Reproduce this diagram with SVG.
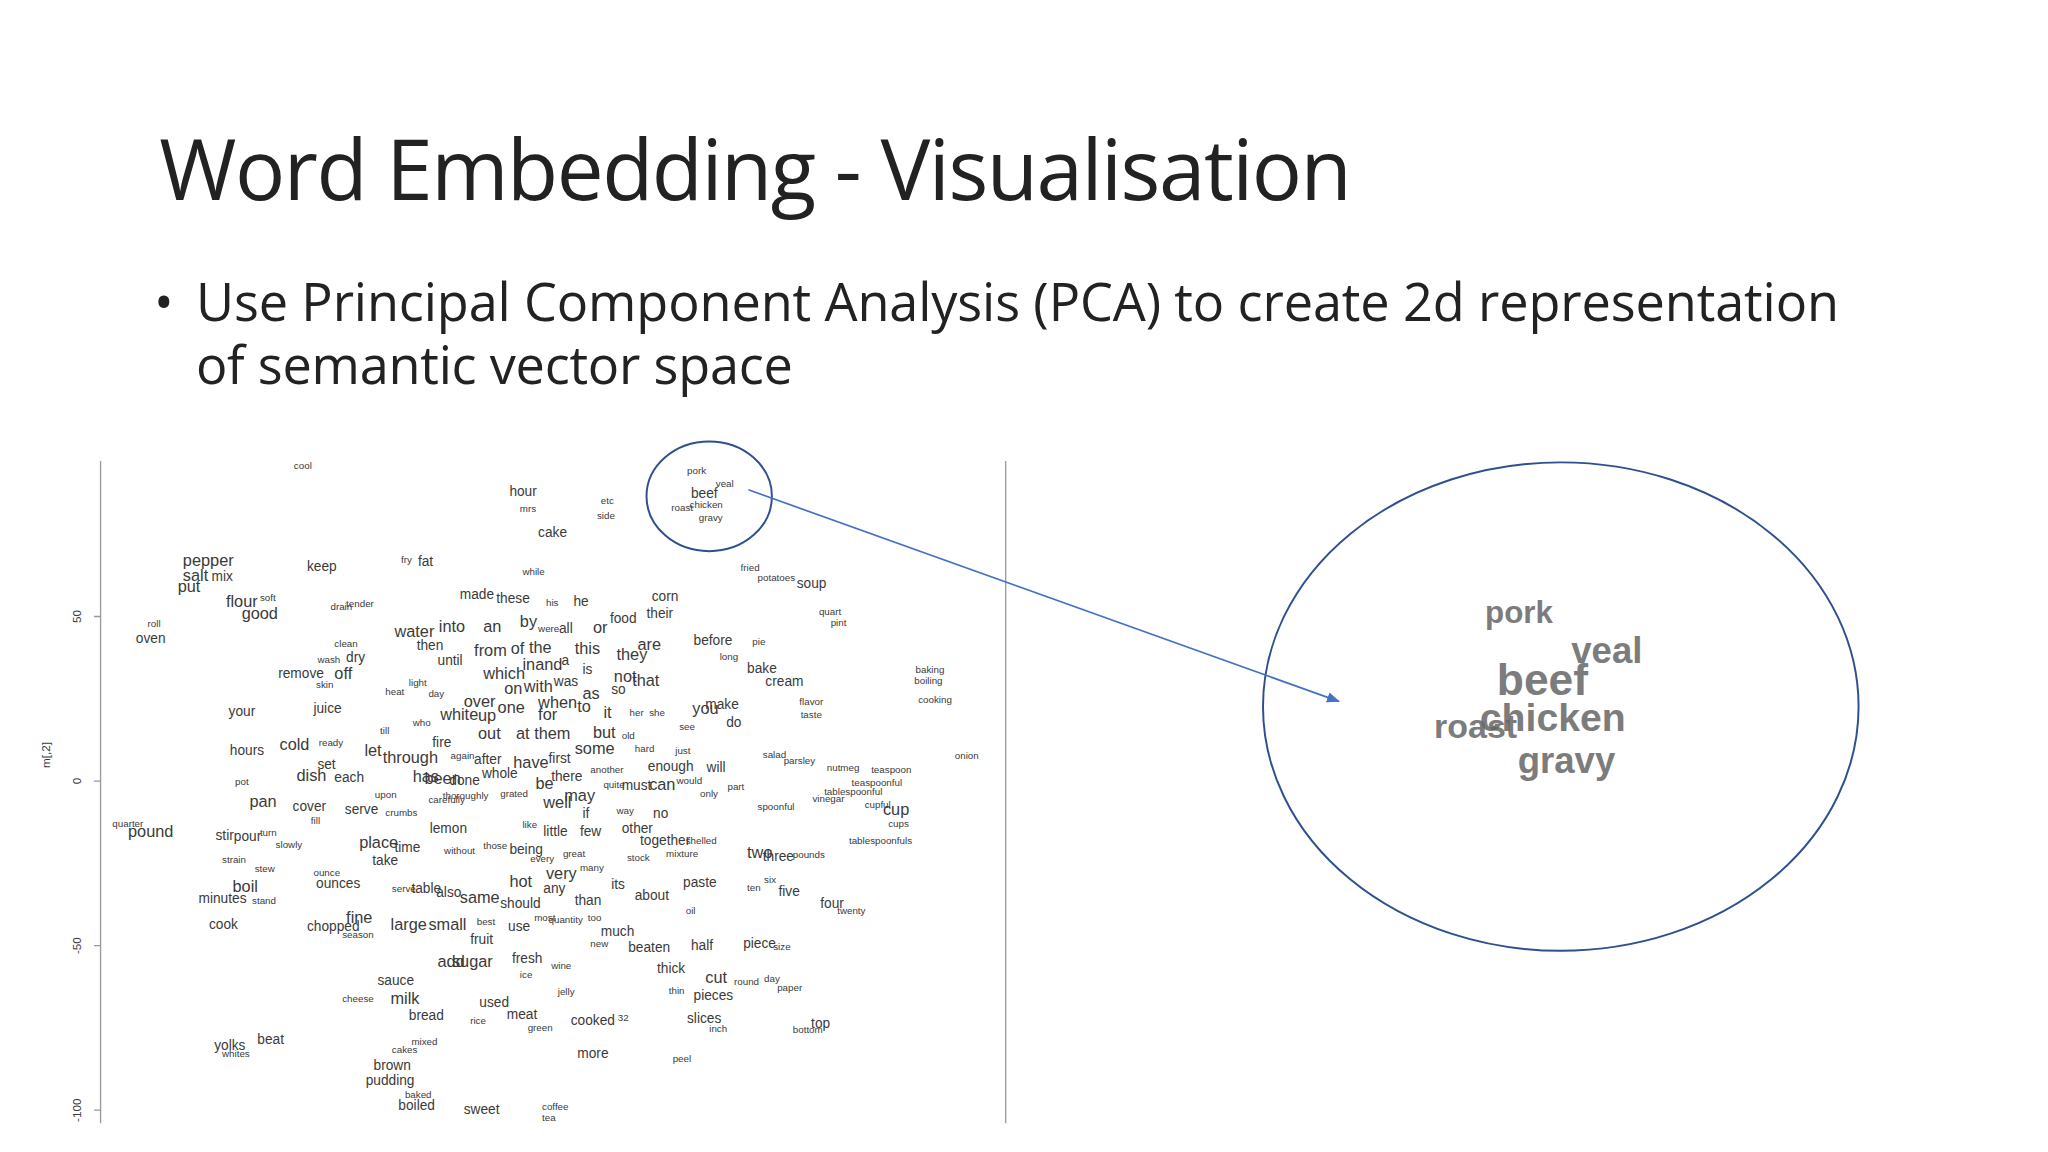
<svg xmlns="http://www.w3.org/2000/svg" width="2048" height="1152" viewBox="0 0 2048 1152">
<style>
.t{font-family:"Open Sans","Liberation Sans",sans-serif;fill:#222}
.w{font-family:"Liberation Sans Narrow","Liberation Sans",Arial,sans-serif;fill:#3a3a3a}
.L{font-size:12.5px}.M{font-size:10.5px}.S{font-size:7.5px}
.ax{stroke:#999;stroke-width:1;fill:none}
.z{font-family:"Liberation Sans",Arial,sans-serif;fill:#666;font-weight:bold;opacity:.85}
</style>
<defs><marker id="ah" markerWidth="10" markerHeight="8" refX="9" refY="4" orient="auto" markerUnits="userSpaceOnUse"><path d="M0,0L10,4L0,8z" fill="#4472c4"/></marker></defs>
<rect width="2048" height="1152" fill="#fff"/>
<g transform="scale(1.3061)">
<g id="title"><text class="t" x="122" y="153" font-size="64" textLength="913">Word Embedding - Visualisation</text></g>
<g id="bullet"><text class="t" x="118" y="246" font-size="40">•</text>
<text class="t" x="150" y="246" font-size="40" textLength="1258">Use Principal Component Analysis (PCA) to create 2d representation</text>
<text class="t" x="150" y="294" font-size="40" textLength="457">of semantic vector space</text></g>
<g id="plot">
<path class="ax" d="M77,353V860M770,353V860M72,472H77M72,598H77M72,724H77M72,850H77"/>
<g class="w" font-size="9" fill="#555" text-anchor="middle">
<text transform="translate(62,472) rotate(-90)">50</text>
<text transform="translate(62,598) rotate(-90)">0</text>
<text transform="translate(62,724) rotate(-90)">-50</text>
<text transform="translate(62,850) rotate(-90)">-100</text>
<text transform="translate(38,578) rotate(-90)">m[,2]</text></g>
<g id="words">
<text class="w S" x="225" y="359">cool</text><text class="w M" x="390" y="380">hour</text><text class="w S" x="398" y="392">mrs</text><text class="w S" x="460" y="386">etc</text><text class="w S" x="457" y="397">side</text><text class="w M" x="412" y="411">cake</text>
<text class="w S" x="526" y="363">pork</text><text class="w S" x="548" y="373">veal</text><text class="w M" x="529" y="381">beef</text><text class="w S" x="514" y="391">roast</text><text class="w S" x="528" y="389">chicken</text><text class="w S" x="535" y="399">gravy</text>
<text class="w L" x="140" y="433">pepper</text><text class="w L" x="140" y="445">salt</text><text class="w M" x="162" y="445">mix</text><text class="w L" x="136" y="453">put</text><text class="w M" x="235" y="437">keep</text><text class="w S" x="307" y="431">fry</text><text class="w M" x="320" y="433">fat</text><text class="w S" x="400" y="440">while</text><text class="w S" x="567" y="437">fried</text><text class="w S" x="580" y="445">potatoes</text><text class="w M" x="610" y="450">soup</text>
<text class="w L" x="173" y="465">flour</text><text class="w S" x="199" y="460">soft</text><text class="w L" x="185" y="474">good</text><text class="w S" x="253" y="467">drain</text><text class="w S" x="265" y="465">tender</text><text class="w M" x="352" y="459">made</text><text class="w M" x="380" y="462">these</text><text class="w S" x="418" y="464">his</text><text class="w M" x="439" y="464">he</text><text class="w M" x="499" y="460">corn</text><text class="w M" x="495" y="473">their</text><text class="w S" x="627" y="471">quart</text><text class="w S" x="636" y="479">pint</text>
<text class="w S" x="113" y="480">roll</text><text class="w M" x="104" y="492">oven</text><text class="w L" x="302" y="488">water</text><text class="w L" x="336" y="484">into</text><text class="w L" x="370" y="484">an</text><text class="w L" x="398" y="480">by</text><text class="w S" x="412" y="484">were</text><text class="w M" x="428" y="485">all</text><text class="w L" x="454" y="485">or</text><text class="w M" x="467" y="477">food</text><text class="w M" x="531" y="494">before</text><text class="w S" x="576" y="494">pie</text>
<text class="w S" x="256" y="495">clean</text><text class="w M" x="319" y="498">then</text><text class="w L" x="363" y="502">from</text><text class="w L" x="391" y="501">of</text><text class="w L" x="405" y="500">the</text><text class="w L" x="440" y="501">this</text><text class="w L" x="472" y="505">they</text><text class="w L" x="488" y="498">are</text>
<text class="w S" x="243" y="508">wash</text><text class="w M" x="265" y="507">dry</text><text class="w M" x="335" y="509">until</text><text class="w L" x="400" y="513">inand</text><text class="w M" x="430" y="509">a</text><text class="w S" x="551" y="505">long</text><text class="w M" x="572" y="515">bake</text><text class="w S" x="701" y="515">baking</text><text class="w S" x="700" y="524">boiling</text>
<text class="w M" x="213" y="519">remove</text><text class="w L" x="256" y="520">off</text><text class="w L" x="370" y="520">which</text><text class="w M" x="446" y="516">is</text><text class="w L" x="470" y="522">not</text><text class="w L" x="484" y="525">that</text><text class="w M" x="586" y="525">cream</text>
<text class="w S" x="313" y="525">light</text><text class="w S" x="242" y="527">skin</text><text class="w S" x="295" y="532">heat</text><text class="w S" x="328" y="534">day</text><text class="w L" x="386" y="531">on</text><text class="w L" x="401" y="530">with</text><text class="w M" x="424" y="525">was</text><text class="w L" x="446" y="535">as</text><text class="w M" x="468" y="531">so</text><text class="w S" x="612" y="540">flavor</text><text class="w S" x="703" y="538">cooking</text>
<text class="w M" x="175" y="548">your</text><text class="w M" x="240" y="546">juice</text><text class="w L" x="355" y="541">over</text><text class="w L" x="381" y="546">one</text><text class="w L" x="412" y="542">when</text><text class="w L" x="442" y="545">to</text><text class="w L" x="462" y="550">it</text><text class="w S" x="482" y="548">her</text><text class="w S" x="497" y="548">she</text><text class="w L" x="530" y="547">you</text><text class="w M" x="540" y="543">make</text><text class="w S" x="613" y="550">taste</text>
<text class="w L" x="337" y="551">white</text><text class="w L" x="366" y="552">up</text><text class="w L" x="412" y="551">for</text><text class="w S" x="316" y="556">who</text><text class="w S" x="520" y="559">see</text><text class="w M" x="556" y="557">do</text><text class="w S" x="291" y="562">till</text><text class="w L" x="366" y="566">out</text><text class="w L" x="395" y="566">at</text><text class="w L" x="409" y="566">them</text><text class="w L" x="454" y="565">but</text><text class="w S" x="476" y="566">old</text>
<text class="w M" x="331" y="572">fire</text><text class="w L" x="440" y="577">some</text><text class="w S" x="486" y="576">hard</text><text class="w S" x="517" y="577">just</text><text class="w M" x="176" y="578">hours</text><text class="w L" x="214" y="574">cold</text><text class="w S" x="244" y="571">ready</text><text class="w L" x="279" y="579">let</text><text class="w L" x="293" y="584">through</text><text class="w S" x="345" y="581">again</text><text class="w M" x="363" y="585">after</text><text class="w L" x="393" y="588">have</text><text class="w M" x="420" y="584">first</text><text class="w M" x="496" y="590">enough</text><text class="w M" x="541" y="591">will</text><text class="w S" x="584" y="580">salad</text><text class="w S" x="600" y="585">parsley</text><text class="w S" x="633" y="590">nutmeg</text><text class="w S" x="667" y="592">teaspoon</text><text class="w S" x="731" y="581">onion</text>
<text class="w M" x="243" y="589">set</text><text class="w S" x="452" y="592">another</text><text class="w L" x="227" y="598">dish</text><text class="w M" x="256" y="599">each</text><text class="w L" x="316" y="599">has</text><text class="w L" x="325" y="600">been</text><text class="w M" x="344" y="601">done</text><text class="w M" x="369" y="596">whole</text><text class="w L" x="410" y="604">be</text><text class="w M" x="422" y="598">there</text><text class="w S" x="462" y="603">quite</text><text class="w M" x="476" y="605">must</text><text class="w L" x="497" y="605">can</text><text class="w S" x="518" y="600">would</text><text class="w S" x="536" y="610">only</text><text class="w S" x="557" y="605">part</text><text class="w S" x="652" y="602">teaspoonful</text>
<text class="w S" x="180" y="601">pot</text><text class="w S" x="631" y="609">tablespoonful</text><text class="w S" x="622" y="614">vinegar</text><text class="w S" x="662" y="619">cupful</text><text class="w S" x="287" y="611">upon</text><text class="w S" x="328" y="615">carefully</text><text class="w S" x="339" y="612">thoroughly</text><text class="w S" x="383" y="610">grated</text><text class="w L" x="432" y="613">may</text>
<text class="w L" x="191" y="618">pan</text><text class="w M" x="224" y="621">cover</text><text class="w M" x="264" y="623">serve</text><text class="w S" x="295" y="625">crumbs</text><text class="w L" x="416" y="619">well</text><text class="w M" x="446" y="626">if</text><text class="w S" x="472" y="623">way</text><text class="w M" x="500" y="626">no</text><text class="w S" x="580" y="620">spoonful</text><text class="w L" x="676" y="624">cup</text>
<text class="w S" x="238" y="631">fill</text><text class="w S" x="86" y="633">quarter</text><text class="w L" x="98" y="641">pound</text><text class="w M" x="165" y="643">stir</text><text class="w M" x="179" y="644">pour</text><text class="w S" x="199" y="640">turn</text><text class="w S" x="211" y="649">slowly</text><text class="w M" x="329" y="638">lemon</text><text class="w S" x="400" y="634">like</text><text class="w M" x="416" y="640">little</text><text class="w M" x="444" y="640">few</text><text class="w M" x="476" y="638">other</text><text class="w S" x="680" y="633">cups</text>
<text class="w M" x="490" y="647">together</text><text class="w S" x="525" y="646">shelled</text><text class="w S" x="650" y="646">tablespoonfuls</text><text class="w L" x="275" y="649">place</text><text class="w M" x="302" y="652">time</text><text class="w S" x="340" y="654">without</text><text class="w S" x="370" y="650">those</text><text class="w M" x="390" y="654">being</text><text class="w S" x="170" y="661">strain</text><text class="w M" x="285" y="662">take</text><text class="w S" x="406" y="660">every</text><text class="w S" x="431" y="656">great</text><text class="w S" x="480" y="659">stock</text><text class="w S" x="510" y="656">mixture</text><text class="w L" x="572" y="657">two</text><text class="w M" x="584" y="659">three</text><text class="w S" x="607" y="657">pounds</text>
<text class="w S" x="195" y="668">stew</text><text class="w S" x="444" y="667">many</text><text class="w L" x="418" y="673">very</text><text class="w S" x="240" y="671">ounce</text><text class="w M" x="242" y="680">ounces</text><text class="w L" x="178" y="683">boil</text><text class="w L" x="390" y="679">hot</text><text class="w M" x="416" y="684">any</text><text class="w M" x="468" y="681">its</text><text class="w M" x="523" y="679">paste</text><text class="w S" x="572" y="682">ten</text><text class="w S" x="585" y="676">six</text><text class="w M" x="596" y="686">five</text>
<text class="w M" x="152" y="691">minutes</text><text class="w S" x="193" y="692">stand</text><text class="w S" x="300" y="683">serve</text><text class="w M" x="315" y="684">table</text><text class="w M" x="334" y="687">also</text><text class="w L" x="352" y="691">same</text><text class="w M" x="383" y="695">should</text><text class="w M" x="440" y="693">than</text><text class="w M" x="486" y="689">about</text><text class="w M" x="628" y="695">four</text><text class="w S" x="641" y="700">twenty</text><text class="w S" x="525" y="700">oil</text>
<text class="w L" x="265" y="707">fine</text><text class="w M" x="235" y="713">chopped</text><text class="w S" x="262" y="718">season</text><text class="w L" x="299" y="712">large</text><text class="w L" x="328" y="712">small</text><text class="w S" x="365" y="708">best</text><text class="w M" x="389" y="713">use</text><text class="w S" x="409" y="705">most</text><text class="w S" x="420" y="707">quantity</text><text class="w S" x="450" y="705">too</text><text class="w M" x="460" y="717">much</text><text class="w M" x="529" y="727">half</text><text class="w M" x="569" y="726">piece</text><text class="w S" x="592" y="727">size</text><text class="w M" x="160" y="711">cook</text>
<text class="w M" x="360" y="723">fruit</text><text class="w S" x="452" y="725">new</text><text class="w M" x="481" y="729">beaten</text><text class="w L" x="335" y="740">add</text><text class="w L" x="346" y="740">sugar</text><text class="w M" x="392" y="737">fresh</text><text class="w S" x="422" y="742">wine</text><text class="w S" x="398" y="749">ice</text><text class="w M" x="503" y="745">thick</text><text class="w L" x="540" y="753">cut</text><text class="w S" x="562" y="754">round</text><text class="w S" x="585" y="752">day</text><text class="w M" x="289" y="754">sauce</text><text class="w S" x="595" y="759">paper</text><text class="w S" x="427" y="762">jelly</text><text class="w S" x="512" y="761">thin</text><text class="w M" x="531" y="766">pieces</text>
<text class="w S" x="262" y="767">cheese</text><text class="w L" x="299" y="769">milk</text><text class="w M" x="367" y="771">used</text><text class="w S" x="360" y="784">rice</text><text class="w M" x="313" y="781">bread</text><text class="w M" x="388" y="780">meat</text><text class="w S" x="404" y="789">green</text><text class="w M" x="437" y="785">cooked</text><text class="w S" x="473" y="782">32</text><text class="w M" x="526" y="783">slices</text><text class="w S" x="543" y="790">inch</text><text class="w M" x="621" y="787">top</text><text class="w S" x="607" y="791">bottom</text>
<text class="w M" x="197" y="799">beat</text><text class="w M" x="164" y="804">yolks</text><text class="w S" x="170" y="809">whites</text><text class="w S" x="315" y="800">mixed</text><text class="w S" x="300" y="806">cakes</text><text class="w M" x="286" y="819">brown</text><text class="w M" x="442" y="810">more</text><text class="w S" x="515" y="813">peel</text><text class="w M" x="280" y="831">pudding</text><text class="w S" x="310" y="841">baked</text><text class="w M" x="305" y="850">boiled</text><text class="w M" x="355" y="853">sweet</text><text class="w S" x="415" y="850">coffee</text><text class="w S" x="415" y="858">tea</text>
</g></g>
<g id="small-circle"><ellipse cx="543" cy="380" rx="48" ry="42" fill="none" stroke="#2f4f8f" stroke-width="1.5"/></g>
<g id="zoom-ellipse"><ellipse cx="1195" cy="541" rx="228" ry="187" fill="none" stroke="#2f4f8f" stroke-width="1.5"/>
<text class="z" x="1137" y="477" font-size="24">pork</text><text class="z" x="1203" y="508" font-size="28">veal</text><text class="z" x="1146" y="532" font-size="34">beef</text><text class="z" x="1098" y="565" font-size="26">roast</text><text class="z" x="1133" y="560" font-size="30">chicken</text><text class="z" x="1162" y="592" font-size="28">gravy</text></g>
<g id="connectors"><line x1="573" y1="375" x2="1025" y2="537" stroke="#4472c4" stroke-width="1.3" marker-end="url(#ah)"/></g>
</g>
</svg>
